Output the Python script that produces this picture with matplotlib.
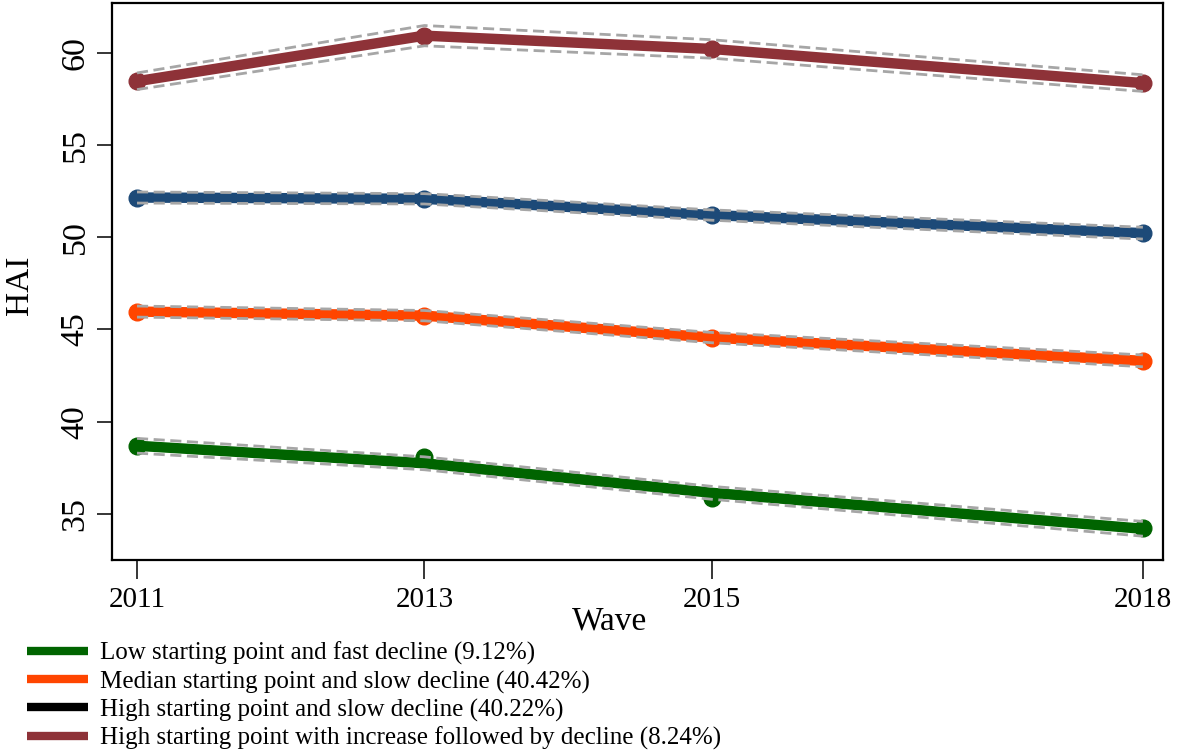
import matplotlib
matplotlib.use("Agg")
import matplotlib.pyplot as plt
from matplotlib.lines import Line2D

plt.rcParams['font.family'] = ['Liberation Serif', 'DejaVu Serif']

waves = [2011, 2013, 2015, 2018]
xtick_labels = ["2011", "2013", "2015", "2018"]
yticks = [35, 40, 45, 50, 55, 60]

# observed means (points)
obs_low = [38.7, 38.1, 35.85, 34.25]
obs_med = [45.97, 45.75, 44.56, 43.3]
obs_high = [52.15, 52.08, 51.2, 50.22]
obs_inc = [58.45, 60.92, 60.2, 58.35]

# estimated trajectories (lines)
fit_low = [38.7, 37.75, 36.15, 34.2]
fit_med = [45.97, 45.75, 44.56, 43.3]
fit_high = [52.15, 52.08, 51.2, 50.22]
fit_inc = [58.45, 60.92, 60.2, 58.35]

# confidence interval half widths
ci_low = [0.4, 0.35, 0.35, 0.4]
ci_med = [0.3, 0.28, 0.28, 0.32]
ci_high = [0.3, 0.28, 0.28, 0.32]
ci_inc = [0.45, 0.55, 0.5, 0.45]

labels = [
    "Low starting point and fast decline (9.12%)",
    "Median starting point and slow decline (40.42%)",
    "High starting point and slow decline (40.22%)",
    "High starting point with increase followed by decline (8.24%)",
]
line_colors = ["#006400", "#FF4500", "#1D4A78", "#8E3238"]
legend_colors = ["#006400", "#FF4500", "#000000", "#8E3238"]

fig = plt.figure(figsize=(11.8, 7.52), dpi=100)
ax = fig.add_axes([112/1180, 1 - 560/752, (1163-112)/1180, (560-3)/752])

series = [(obs_low, fit_low, ci_low), (obs_med, fit_med, ci_med),
          (obs_high, fit_high, ci_high), (obs_inc, fit_inc, ci_inc)]
for (obs, fit, ci), c in zip(series, line_colors):
    ax.plot(waves, fit, color=c, lw=7.5, solid_capstyle='round', zorder=2)
    ax.plot(waves, obs, 'o', color=c, ms=12, zorder=3)
    lo = [f - h for f, h in zip(fit, ci)]
    hi = [f + h for f, h in zip(fit, ci)]
    ax.plot(waves, lo, color='#A6A6A6', lw=2, ls=(0, (4, 2)), zorder=4)
    ax.plot(waves, hi, color='#A6A6A6', lw=2, ls=(0, (4, 2)), zorder=4)

ax.set_xlim(2010.826, 2018.14)
ax.set_ylim(32.51, 62.69)
ax.set_xticks(waves)
ax.set_xticklabels(xtick_labels)
ax.set_yticks(yticks)
ax.set_yticklabels([str(v) for v in yticks], rotation=90, va='center')
ax.tick_params(axis='x', direction='out', length=13.5, width=1.1, labelsize=21, pad=6, colors='black')
ax.tick_params(axis='y', direction='out', length=10.5, width=1.1, labelsize=24.5, pad=5, colors='black')
for s in ax.spines.values():
    s.set_linewidth(1.6)

ax.set_xlabel("Wave", fontsize=24, labelpad=0)
ax.xaxis.set_label_coords(0.473, -0.083)
ax.set_ylabel("HAI", fontsize=24)
ax.yaxis.set_label_coords(-0.073, 0.494)

handles = [Line2D([0], [0], color=c, lw=6, solid_capstyle='butt') for c in legend_colors]
fig.legend(handles, labels, loc='upper left', bbox_to_anchor=(0.023, 1 - 642/752),
           frameon=False, fontsize=18, handlelength=2.44, handletextpad=0.48,
           labelspacing=0.2, borderaxespad=0, borderpad=0)

fig.savefig("out.png", dpi=100)
